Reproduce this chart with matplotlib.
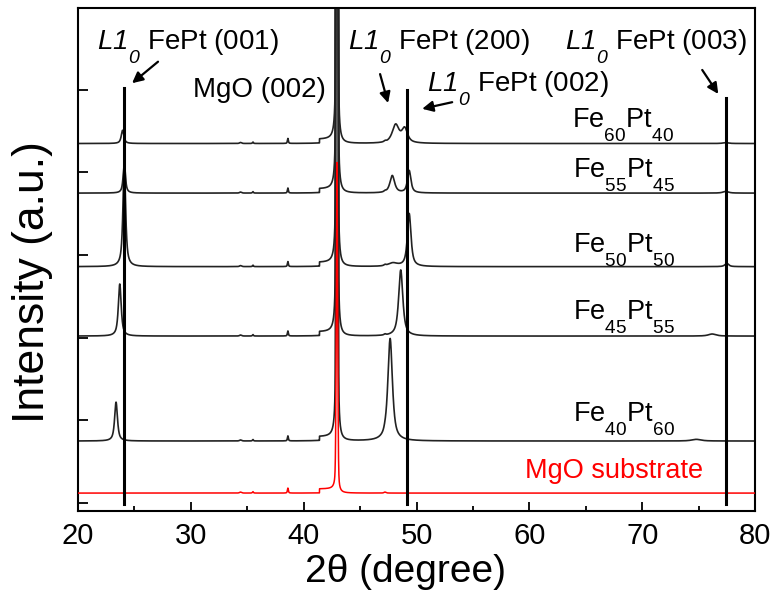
import numpy as np
import matplotlib
matplotlib.use("Agg")
import matplotlib.pyplot as plt
from matplotlib import _mathtext


# Deeper subscripts for the Liberation Sans mathtext labels
class _DeepSubscripts(_mathtext.FontConstantsBase):
    sub1 = 0.95


_mathtext._font_constant_mapping["Liberation Sans"] = _DeepSubscripts

plt.rcParams["font.family"] = ["Liberation Sans", "DejaVu Sans"]
plt.rcParams["mathtext.fontset"] = "custom"
plt.rcParams["mathtext.rm"] = "Liberation Sans"
plt.rcParams["mathtext.it"] = "Liberation Sans:italic"
plt.rcParams["mathtext.bf"] = "Liberation Sans:bold"
# italic digits for the L1_0 phase symbol
plt.rcParams["mathtext.sf"] = "Liberation Sans:italic"

# ---------------------------------------------------------------- data
two_theta = np.linspace(20.0, 80.0, 12001)

# scans, bottom to top
labels = ["MgO substrate", "Fe$_{40}$Pt$_{60}$", "Fe$_{45}$Pt$_{55}$",
          "Fe$_{50}$Pt$_{50}$", "Fe$_{55}$Pt$_{45}$", "Fe$_{60}$Pt$_{40}$"]
offsets = [0.12, 0.75, 2.02, 2.86, 3.75, 4.35]

# MgO (002) substrate reflection
mgo_center = 42.95
mgo_height_bare = 4.0
mgo_height_film = 80.0

# weak substrate features present in every scan
weak_centers = [34.4, 35.5, 38.6, 47.2]
weak_heights = [0.012, 0.018, 0.06, 0.012]
weak_widths = [0.10, 0.05, 0.05, 0.10]
shoulder_start, shoulder_stop = 41.4, 42.9
shoulder_height = 0.05

# FePt film reflections: centre (deg), height, half width (deg)
fe40_centers = [23.37, 47.66, 74.8]
fe40_heights = [0.47, 1.24, 0.02]
fe40_widths = [0.15, 0.24, 0.5]

fe45_centers = [23.70, 48.60, 76.2]
fe45_heights = [0.63, 0.80, 0.025]
fe45_widths = [0.15, 0.22, 0.4]

fe50_centers = [24.10, 47.9, 49.35, 77.5]
fe50_heights = [1.25, 0.04, 0.64, 0.04]
fe50_widths = [0.14, 0.5, 0.19, 0.2]

fe55_centers = [24.10, 47.85, 49.35, 77.4]
fe55_heights = [0.36, 0.21, 0.27, 0.02]
fe55_widths = [0.12, 0.25, 0.18, 0.3]

fe60_centers = [23.95, 48.15, 48.95, 77.4]
fe60_heights = [0.16, 0.22, 0.17, 0.01]
fe60_widths = [0.14, 0.36, 0.30, 0.3]

film_centers = [[], fe40_centers, fe45_centers, fe50_centers, fe55_centers, fe60_centers]
film_heights = [[], fe40_heights, fe45_heights, fe50_heights, fe55_heights, fe60_heights]
film_widths = [[], fe40_widths, fe45_widths, fe50_widths, fe55_widths, fe60_widths]

# reference lines for the L1_0 FePt reflections
line_positions = [24.1, 49.15, 77.4]
line_tops = [5.02, 5.0, 4.9]


def pseudo_voigt(x, center, height, hwhm, eta):
    lor = hwhm ** 2 / ((x - center) ** 2 + hwhm ** 2)
    gau = np.exp(-np.log(2) * ((x - center) / hwhm) ** 2)
    return height * (eta * lor + (1.0 - eta) * gau)


def scan(index):
    y = np.full_like(two_theta, offsets[index])
    for c, h, w in zip(weak_centers, weak_heights, weak_widths):
        y += pseudo_voigt(two_theta, c, h, w, 0.6)
    y += np.where((two_theta > shoulder_start) & (two_theta < shoulder_stop),
                  shoulder_height, 0.0)
    if index == 0:
        y += pseudo_voigt(two_theta, mgo_center, mgo_height_bare, 0.07, 0.3)
    else:
        y += pseudo_voigt(two_theta, mgo_center, mgo_height_film, 0.055, 0.07)
    for c, h, w in zip(film_centers[index], film_heights[index], film_widths[index]):
        y += pseudo_voigt(two_theta, c, h, w, 0.8)
    return y


# ---------------------------------------------------------------- figure
fig = plt.figure(figsize=(7.74, 5.96), dpi=100)
ax = fig.add_axes([0.1008, 0.1426, 0.8747, 0.8440])

for i in range(1, len(labels)):
    ax.plot(two_theta, scan(i), color="#222222", lw=1.2, zorder=2)
ax.plot(two_theta, scan(0), color="red", lw=1.1, zorder=3)

for xp, top in zip(line_positions, line_tops):
    ax.plot([xp, xp], [-0.01, top], color="black", lw=2.2, zorder=4)

ax.set_xlim(20, 80)
ax.set_ylim(-0.097, 5.99)

# sample names
label_x = [59.63, 63.88, 63.85, 63.85, 63.85, 63.79]
label_y = [0.30, 0.98, 2.215, 3.03, 3.93, 4.54]
for i, name in enumerate(labels):
    ax.text(label_x[i], label_y[i], name, fontsize=19.5, va="baseline",
            ha="left", color="red" if i == 0 else "black", zorder=5)

# reflection annotations
phase = r"$\mathsf{L1}_{\mathsf{0}}$"
ax.text(21.68, 5.484, phase + " FePt (001)", fontsize=20, va="baseline")
ax.text(30.2, 4.915, "MgO (002)", fontsize=20, va="baseline")
ax.text(43.94, 5.484, phase + " FePt (200)", fontsize=20, va="baseline")
ax.text(50.94, 4.976, phase + " FePt (002)", fontsize=20, va="baseline")
ax.text(63.17, 5.484, phase + " FePt (003)", fontsize=20, va="baseline")

arrow_tails = [(27.09, 5.34), (46.77, 5.19), (53.16, 4.85), (75.32, 5.24)]
arrow_heads = [(24.79, 5.08), (47.48, 4.84), (50.50, 4.77), (76.74, 4.95)]
for tail, head in zip(arrow_tails, arrow_heads):
    ax.annotate("", xy=head, xytext=tail,
                arrowprops=dict(arrowstyle="-|>", color="black", lw=1.6,
                                mutation_scale=16, shrinkA=0, shrinkB=0))

# axes styling
ax.set_xticks(range(20, 81, 10))
ax.set_xticks(range(25, 80, 10), minor=True)
ax.set_yticks(range(0, 6))
ax.tick_params(axis="x", which="major", direction="in", length=6.5, width=1.3,
               labelsize=21, pad=8, top=False)
ax.tick_params(axis="x", which="minor", direction="in", length=3.6, width=1.3,
               top=False)
ax.tick_params(axis="y", which="major", direction="in", length=7, width=1.3,
               labelleft=False, right=False)
for spine in ax.spines.values():
    spine.set_linewidth(1.5)

ax.set_xlabel("2θ (degree)", fontsize=28, va="center", ha="center")
ax.xaxis.set_label_coords(0.483, -0.121)
ax.set_ylabel("Intensity (a.u.)", fontsize=32, va="center", ha="center")
ax.yaxis.set_label_coords(-0.0665, 0.455)

fig.savefig("out.png", dpi=100)
